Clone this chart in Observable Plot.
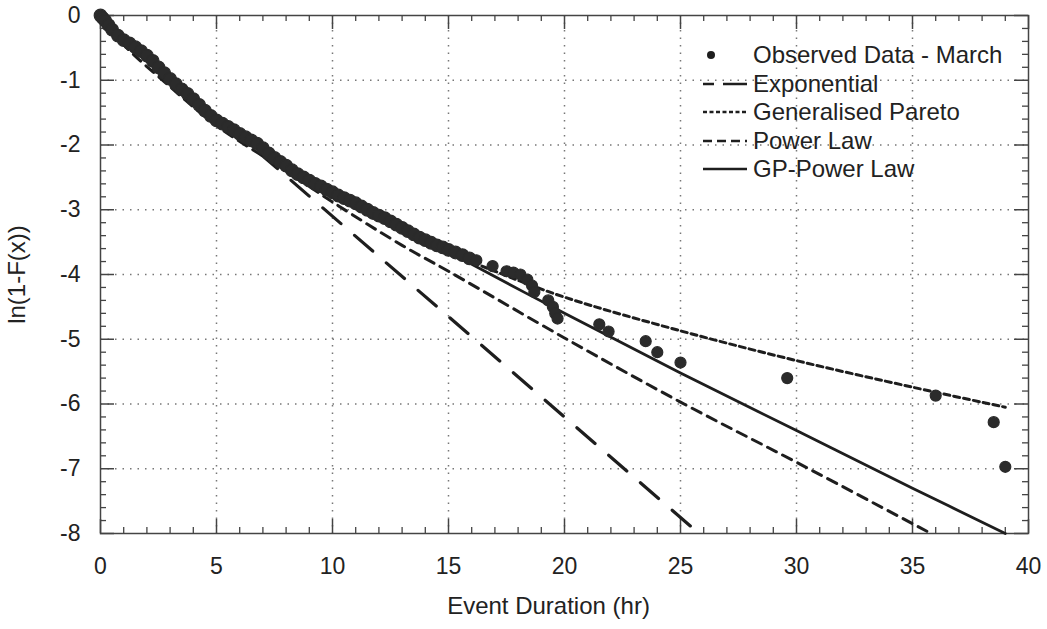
<!DOCTYPE html>
<html><head><meta charset="utf-8">
<script src="https://cdn.jsdelivr.net/npm/d3@7"></script>
<script src="https://cdn.jsdelivr.net/npm/@observablehq/plot@0.6"></script>
<style>
body{margin:0;background:#fff;font-family:"Liberation Sans",Arial,sans-serif;}
#wrap{position:relative;width:1047px;height:629px;}
#legend{position:absolute;left:703px;top:41px;font-size:24px;color:#222;line-height:1;}
.row{display:flex;align-items:center;height:28.5px;white-space:nowrap;}
.row svg{margin-right:6px;flex:none;}
</style></head><body><div id="wrap"><div id="chart"></div><div id="legend"></div></div>
<script>
// Observed data (event duration in hr, ln(1-F(x)))
const obsX = [0,0.1,0.2,0.35,0.5,0.75,1.0,1.25,1.5,1.75,2.0,2.25,2.5,2.75,3.0,3.25,3.5,3.75,4.0,4.25,4.5,4.75,5.0,5.25,5.5,5.75,6.0,6.25,6.5,6.75,7.0,7.25,7.5,7.75,8.0,8.25,8.5,8.75,9.0,9.25,9.5,9.75,10.0,10.25,10.5,10.75,11.0,11.25,11.5,11.75,12.0,12.25,12.5,12.75,13.0,13.25,13.5,13.75,14.0,14.25,14.5,14.75,15.0,15.3,15.6,15.9,16.2,16.9,17.5,17.8,18.1,18.4,18.6,18.7,19.3,19.5,19.6,19.7,21.5,21.9,23.5,24.0,25.0,29.6,36.0,38.5,39.0];
const obsY = [0,-0.04,-0.08,-0.15,-0.22,-0.31,-0.38,-0.43,-0.49,-0.55,-0.62,-0.7,-0.8,-0.89,-0.98,-1.06,-1.14,-1.21,-1.29,-1.38,-1.47,-1.55,-1.62,-1.67,-1.72,-1.77,-1.83,-1.88,-1.93,-1.98,-2.05,-2.13,-2.2,-2.26,-2.32,-2.39,-2.45,-2.5,-2.55,-2.6,-2.64,-2.69,-2.73,-2.78,-2.82,-2.86,-2.9,-2.95,-3.0,-3.05,-3.09,-3.13,-3.18,-3.23,-3.28,-3.33,-3.38,-3.43,-3.47,-3.51,-3.55,-3.58,-3.62,-3.66,-3.7,-3.75,-3.78,-3.87,-3.95,-3.97,-4.0,-4.08,-4.17,-4.27,-4.4,-4.5,-4.6,-4.68,-4.77,-4.88,-5.03,-5.2,-5.36,-5.6,-5.87,-6.28,-6.97];

const expX = [0, 25.8];
const expY = [0, -8];
const gpX = [0,1,3,5,8,10,13,15,17,20,25,30,35,39];
const gpY = [0,-0.4,-1.0,-1.6,-2.35,-2.75,-3.3,-3.65,-3.95,-4.35,-4.87,-5.33,-5.74,-6.05];
const powX = [0,1,3,5,8,10,13,15,20,25,30,35.8];
const powY = [0,-0.45,-1.1,-1.7,-2.4,-2.88,-3.55,-3.95,-4.98,-5.97,-6.9,-8];
const gppX = [0,1,2,3,5,7,10,13,15,20,25,30,35,39];
const gppY = [0,-0.4,-0.65,-0.97,-1.58,-2.05,-2.7,-3.25,-3.65,-4.6,-5.52,-6.41,-7.3,-8];

const xTicks = [0,5,10,15,20,25,30,35,40];
const yTicks = [-8,-7,-6,-5,-4,-3,-2,-1,0];
const xMinor = d3.range(0, 41, 1).filter(v => v % 5 !== 0);
const yMinor = d3.range(-40, 1, 1).map(v => v / 5).filter(v => !Number.isInteger(v));

const series = [
  {name: "Observed Data - March", kind: "dot"},
  {name: "Exponential", dash: "24 9", off: 13},
  {name: "Generalised Pareto", dash: "4 2.5", off: 0},
  {name: "Power Law", dash: "9 5", off: 0},
  {name: "GP-Power Law", dash: null, off: 0}
];

const obs = obsX.map((x, i) => ({x, y: obsY[i]}));
const pts = (xs, ys) => xs.map((x, i) => ({x, y: ys[i]}));

const W = 1047, H = 629, mt = 15, mr = 19, mb = 96, ml = 100;
const ph = H - mt - mb, pw = W - ml - mr;
const ink = "#1e1e1e";
const fmt = d => (d < 0 ? "-" : "") + Math.abs(d);

const chart = Plot.plot({
  width: W, height: H,
  marginTop: mt, marginRight: mr, marginBottom: mb, marginLeft: ml,
  style: {fontFamily: '"Liberation Sans", Arial, sans-serif', background: "#fff", color: "#222"},
  x: {domain: [0, 40]},
  y: {domain: [-8, 0]},
  marks: [
    Plot.gridX(xTicks.slice(1, -1), {stroke: "#777", strokeOpacity: 1, strokeWidth: 1.5, strokeDasharray: "1.5 6"}),
    Plot.gridY(yTicks.slice(1, -1), {stroke: "#777", strokeOpacity: 1, strokeWidth: 1.5, strokeDasharray: "1.5 6"}),
    // minor and major ticks, inside the frame on all four sides
    Plot.tickX(xMinor, {x: d => d, insetTop: ph - 6, stroke: "#444", strokeWidth: 1.3}),
    Plot.tickX(xMinor, {x: d => d, insetBottom: ph - 6, stroke: "#444", strokeWidth: 1.3}),
    Plot.tickX(xTicks, {x: d => d, insetTop: ph - 14, stroke: "#444", strokeWidth: 1.5}),
    Plot.tickX(xTicks, {x: d => d, insetBottom: ph - 14, stroke: "#444", strokeWidth: 1.5}),
    Plot.tickY(yMinor, {y: d => d, insetRight: pw - 6, stroke: "#444", strokeWidth: 1.3}),
    Plot.tickY(yMinor, {y: d => d, insetLeft: pw - 6, stroke: "#444", strokeWidth: 1.3}),
    Plot.tickY(yTicks, {y: d => d, insetRight: pw - 14, stroke: "#444", strokeWidth: 1.5}),
    Plot.tickY(yTicks, {y: d => d, insetLeft: pw - 14, stroke: "#444", strokeWidth: 1.5}),
    Plot.frame({stroke: "#444", strokeWidth: 1.5}),
    Plot.line(pts(expX, expY), {x: "x", y: "y", stroke: ink, strokeWidth: 3.2, strokeDasharray: "24 18"}),
    Plot.line(pts(powX, powY), {x: "x", y: "y", stroke: ink, strokeWidth: 3, strokeDasharray: "10 7", curve: "catmull-rom"}),
    Plot.line(pts(gpX, gpY), {x: "x", y: "y", stroke: ink, strokeWidth: 3, strokeDasharray: "6 4", curve: "catmull-rom"}),
    Plot.line(pts(gppX, gppY), {x: "x", y: "y", stroke: ink, strokeWidth: 2.8, curve: "catmull-rom"}),
    Plot.dot(obs.filter(d => d.x < 16), {x: "x", y: "y", r: 6.3, fill: "#2b2b2b", stroke: "#2b2b2b", strokeWidth: 1.2}),
    Plot.dot(obs.filter(d => d.x >= 16), {x: "x", y: "y", r: 5.5, fill: "#2b2b2b", stroke: "#2b2b2b", strokeWidth: 1.2}),
    Plot.axisX(xTicks, {tickSize: 0, tickPadding: 24, fontSize: 23, tickFormat: fmt, label: null}),
    Plot.axisY(yTicks, {tickSize: 0, tickPadding: 20, fontSize: 23, tickFormat: fmt, label: null}),
    Plot.text(["Event Duration (hr)"], {frameAnchor: "bottom", dx: -16, dy: 80, fontSize: 24, fill: "#222", textAnchor: "middle"}),
    Plot.text(["ln(1-F(x))"], {frameAnchor: "left", dx: -83, rotate: -90, fontSize: 24, fill: "#222", textAnchor: "middle"})
  ]
});
document.getElementById("chart").appendChild(chart);

// legend
const leg = document.getElementById("legend");
for (const s of series) {
  const row = document.createElement("div");
  row.className = "row";
  let g;
  if (s.kind === "dot") g = `<circle cx="8" cy="6" r="4" fill="#1e1e1e"/>`;
  else g = `<line x1="0" y1="6" x2="44" y2="6" stroke="#1e1e1e" stroke-width="2.6" ${s.dash ? `stroke-dasharray="${s.dash}" stroke-dashoffset="${s.off}"` : ""}/>`;
  row.innerHTML = `<svg width="44" height="12">${g}</svg><span>${s.name}</span>`;
  leg.appendChild(row);
}
</script>
</body></html>
